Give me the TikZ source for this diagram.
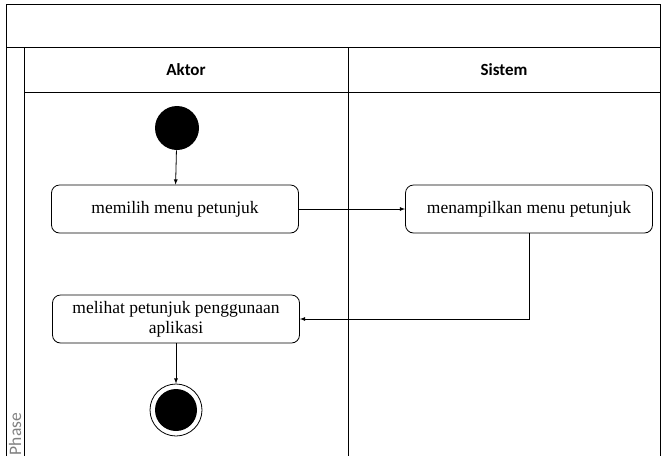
\documentclass[tikz,border=0pt]{standalone}
\usepackage{fontspec}
\setmainfont{Liberation Serif}
\newfontfamily\lanefont{Carlito}
\usetikzlibrary{positioning}

\tikzset{
  act/.style={draw, rounded corners=8pt, minimum width=247pt, minimum height=48pt,
    align=center, inner sep=2pt, font=\fontsize{17.5}{20}\selectfont},
  lanehead/.style={font=\lanefont\bfseries\fontsize{17}{19}\selectfont},
  flow/.style={->, line width=0.8pt},
}

\begin{document}
\begin{tikzpicture}[x=1pt, y=-1pt, >=latex, line width=0.8pt]
  \useasboundingbox (0,0) rectangle (661,456);
  % pool and lanes
  \draw (6,456) -- (6,4) -- (660,4) -- (660,456)
        (6,47) -- (660,47) (24,47) -- (24,456) (348,47) -- (348,456) (24,92) -- (660,92);
  \node[lanehead] (aktor) at (186,70) {Aktor};
  \node[lanehead] (sistem) at (504,70) {Sistem};
  \node[rotate=90, text=gray, font=\lanefont\fontsize{17.5}{19}\selectfont] (phase) at (15,434) {Phase};
  % activities
  \node[circle, fill, minimum size=44pt, inner sep=0pt] (start) at (177,128) {};
  \node[act] (pilih) at (175,209) {memilih menu petunjuk};
  \node[act] (tampil) at (529,209) {menampilkan menu petunjuk};
  \node[act] (lihat) at (176,319) {melihat petunjuk penggunaan\\aplikasi};
  \node[circle, draw, minimum size=52pt, inner sep=0pt] (end) at (176,410) {};
  \node[circle, fill, minimum size=42pt, inner sep=0pt] (endin) at (end) {};
  % flows
  \draw[flow] (start) -- (pilih);
  \draw[flow] (pilih) -- (tampil);
  \draw[flow] (tampil.south) |- (lihat.east);
  \draw[flow] (lihat) -- (end);
\end{tikzpicture}
\end{document}
